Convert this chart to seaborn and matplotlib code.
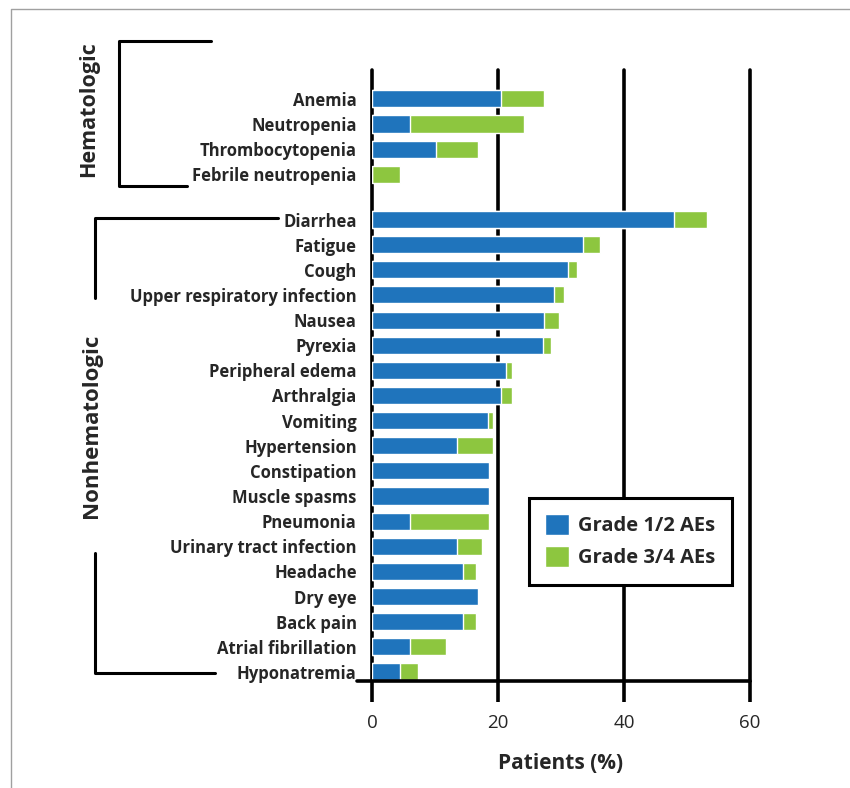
import pandas as pd
import numpy as np
import seaborn as sns
import matplotlib.pyplot as plt
from matplotlib.lines import Line2D

# adverse events, top to bottom
hema_events = ["Anemia", "Neutropenia", "Thrombocytopenia", "Febrile neutropenia"]
hema_g12 = [20.5, 6.0, 10.2, 0.0]
hema_g34 = [6.8, 18.1, 6.6, 4.4]

nonhema_events = ["Diarrhea", "Fatigue", "Cough", "Upper respiratory infection", "Nausea",
                  "Pyrexia", "Peripheral edema", "Arthralgia", "Vomiting", "Hypertension",
                  "Constipation", "Muscle spasms", "Pneumonia", "Urinary tract infection",
                  "Headache", "Dry eye", "Back pain", "Atrial fibrillation", "Hyponatremia"]
nonhema_g12 = [47.9, 33.5, 31.1, 28.9, 27.3, 27.1, 21.3, 20.5, 18.4, 13.5,
               18.6, 18.6, 6.0, 13.5, 14.4, 16.8, 14.4, 6.0, 4.4]
nonhema_g34 = [5.3, 2.7, 1.4, 1.6, 2.4, 1.3, 0.9, 1.7, 0.8, 5.7,
               0.0, 0.0, 12.6, 4.0, 2.1, 0.0, 2.1, 5.7, 2.9]

x_ticks = [0, 20, 40, 60]
legend_labels = ["Grade 1/2 AEs", "Grade 3/4 AEs"]

BLUE = "#1f74bc"
GREEN = "#8dc63f"
GROUP_GAP = 1.8


def main():
    sns.set_style("white")
    plt.rcParams['font.family'] = ['Open Sans', 'DejaVu Sans']

    # row positions with a gap between the two groups
    pos = list(range(len(hema_events))) + \
        [len(hema_events) - 1 + GROUP_GAP + i for i in range(len(nonhema_events))]
    df = pd.DataFrame({
        'event': hema_events + nonhema_events,
        'g12': hema_g12 + nonhema_g12,
        'g34': hema_g34 + nonhema_g34,
        'pos': pos,
    })
    df['total'] = df['g12'] + df['g34']

    px = 1 / 100
    fig = plt.figure(figsize=(850 * px, 788 * px), dpi=100)
    ax = fig.add_axes([372 / 850, 1 - 681 / 788, 378 / 850, 611 / 788])

    for xv in x_ticks:
        ax.axvline(xv, color='black', lw=2.6, zorder=0, clip_on=False)

    sns.barplot(data=df, x='total', y='pos', orient='y', native_scale=True,
                color=GREEN, width=0.68, saturation=1, label=legend_labels[1], ax=ax, zorder=2)
    sns.barplot(data=df, x='g12', y='pos', orient='y', native_scale=True,
                color=BLUE, width=0.68, saturation=1, label=legend_labels[0], ax=ax, zorder=3)

    ax.set_xlim(0, 60)
    ax.set_ylim(pos[-1] + 0.36, -1.15)
    ax.set_yticks(pos)
    ax.set_yticklabels(df['event'], fontsize=12, fontweight='bold')
    ax.set_xticks(x_ticks)
    ax.set_xticklabels([str(t) for t in x_ticks], fontsize=13.5)
    ax.tick_params(axis='y', length=0, pad=11)
    ax.tick_params(axis='x', length=15, width=2.6, color='black', pad=9, direction='out', bottom=True)
    for s in ['top', 'right', 'left', 'bottom']:
        ax.spines[s].set_visible(False)
    ax.plot([-0.04, 1], [0, 0], transform=ax.transAxes, color='black', lw=2.6, clip_on=False, zorder=4)
    ax.set_xlabel("Patients (%)", fontsize=15, fontweight='bold', labelpad=15)
    ax.set_ylabel("")

    handles, labels = ax.get_legend_handles_labels()
    order = [labels.index(l) for l in legend_labels]
    leg = ax.legend([handles[i] for i in order], legend_labels,
                    loc='upper left', bbox_to_anchor=(529 / 850, 1 - 498 / 788),
                    bbox_transform=fig.transFigure, fancybox=False, framealpha=1,
                    edgecolor='black', prop={'weight': 'bold', 'size': 14.5},
                    handlelength=1.2, handleheight=1.2, handletextpad=0.45,
                    labelspacing=0.5, borderpad=0.8, borderaxespad=0)
    leg.get_frame().set_linewidth(2.2)

    # group brackets (figure pixel coords)
    def fline(xs, ys):
        fig.add_artist(Line2D([x / 850 for x in xs], [1 - y / 788 for y in ys],
                              color='black', lw=2.2, transform=fig.transFigure))

    fline([211, 119, 119, 187], [41, 41, 186, 186])
    fline([278, 95, 95], [218, 218, 298])
    fline([95, 95, 215], [553, 673, 673])
    fig.text(89 / 850, 1 - 109 / 788, "Hematologic", rotation=90, ha='center', va='center',
             fontsize=15.5, fontweight='bold')
    fig.text(92 / 850, 1 - 426 / 788, "Nonhematologic", rotation=90, ha='center', va='center',
             fontsize=16, fontweight='bold')

    # thin frame
    fig.add_artist(Line2D([11 / 850, 11 / 850, 1], [0, 1 - 9 / 788, 1 - 9 / 788],
                          color='#a0a0a0', lw=1, transform=fig.transFigure))

    fig.savefig("out.png", dpi=100)


if __name__ == "__main__":
    main()
